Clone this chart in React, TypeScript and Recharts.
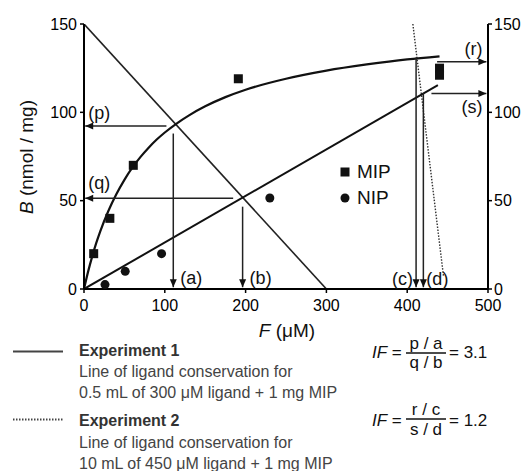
import React from 'react';
import { ComposedChart, Line, Scatter, XAxis, YAxis, Legend } from 'recharts';

// ---- data ----
const xTicks = [0, 100, 200, 300, 400, 500];
const yTicks = [0, 50, 100, 150];

const mipF = [12, 32, 61, 191, 440, 440];
const mipB = [20, 40, 70, 119, 125, 121];
const nipF = [26, 51, 96, 230];
const nipB = [2.5, 10, 20, 51.5];

const mipFitF = [0, 5, 10, 15, 20, 30, 40, 50, 60, 70, 80, 90, 100, 115, 130, 150, 175, 200, 250, 300, 350, 400, 440];
const mipFitB = [0, 9.7, 18.2, 25.8, 32.5, 44, 53.6, 61.8, 68.8, 74.8, 80, 84.6, 88.6, 93.8, 98.3, 103.4, 108.6, 112.8, 119, 123.6, 127.1, 130, 131.7];

const nipFitF = [0, 438];
const nipFitB = [0, 115.4];

const exp1F = [0, 300];
const exp1B = [150, 0];
const exp2F = [407, 445];
const exp2B = [150, 7];

const arrowNames = ['p', 'a', 'q', 'b', 'c', 'd', 'r', 's'];
const arrowFromF = [102, 110.5, 184.6, 196.3, 411, 420, 437, 430];
const arrowFromB = [92.2, 88, 51.3, 46.6, 131, 111, 128.7, 110.7];
const arrowToF = [1.5, 110.5, 1.5, 196.3, 411, 420, 498, 498];
const arrowToB = [92.2, 1, 51.3, 1, 1, 1, 128.7, 110.7];

// ---- helpers ----
const pts = (F: number[], B: number[]) => F.map((f, i) => ({ F: f, B: B[i] }));

const FONT = '"Liberation Sans", Arial, Helvetica, sans-serif';
const INK = '#111';

const labelStyle: Record<string, [number, number, string]> = {
  p: [3, -13, 'start'],
  q: [3, -16, 'start'],
  a: [7, -10, 'start'],
  b: [7, -10, 'start'],
  c: [-3, -9, 'end'],
  d: [3, -9, 'start'],
  r: [-4, -13, 'end'],
  s: [-4, 13, 'end'],
};

const arrowTips = arrowNames.map((n, i) => {
  let dir = 'down';
  if (arrowToF[i] < arrowFromF[i]) dir = 'left';
  else if (arrowToF[i] > arrowFromF[i]) dir = 'right';
  else if (arrowToB[i] > arrowFromB[i]) dir = 'up';
  return { F: arrowToF[i], B: arrowToB[i], name: n, dir };
});

const ArrowHead = (props: any) => {
  const { cx, cy, payload } = props;
  if (cx == null || cy == null) return null;
  const L = 8;
  const W = 3.5;
  let poly = '';
  switch (payload.dir) {
    case 'left':
      poly = `${cx},${cy} ${cx + L},${cy - W} ${cx + L},${cy + W}`;
      break;
    case 'right':
      poly = `${cx},${cy} ${cx - L},${cy - W} ${cx - L},${cy + W}`;
      break;
    case 'up':
      poly = `${cx},${cy} ${cx - W},${cy + L} ${cx + W},${cy + L}`;
      break;
    default:
      poly = `${cx},${cy} ${cx - W},${cy - L} ${cx + W},${cy - L}`;
  }
  const [dx, dy, anchor] = labelStyle[payload.name];
  return (
    <g>
      <polygon points={poly} fill={INK} />
      <text
        x={cx + dx}
        y={cy + dy}
        dy="0.35em"
        textAnchor={anchor as any}
        fontSize={18}
        fontFamily={FONT}
        fill={INK}
      >
        ({payload.name})
      </text>
    </g>
  );
};

const Square = (props: any) => {
  const { cx, cy } = props;
  if (cx == null) return null;
  return <rect x={cx - 4.5} y={cy - 4.5} width={9} height={9} fill={INK} />;
};
const Dot = (props: any) => {
  const { cx, cy } = props;
  if (cx == null) return null;
  return <circle cx={cx} cy={cy} r={4.5} fill={INK} />;
};

const LegendBox = () => (
  <div style={{ fontFamily: FONT, fontSize: 19, color: INK }}>
    <div style={{ display: 'flex', alignItems: 'center', height: 26 }}>
      <svg width={10} height={10}>
        <rect x={0.5} y={0.5} width={9} height={9} fill={INK} />
      </svg>
      <span style={{ marginLeft: 7 }}>MIP</span>
    </div>
    <div style={{ display: 'flex', alignItems: 'center', height: 26 }}>
      <svg width={10} height={10}>
        <circle cx={5} cy={5} r={4.5} fill={INK} />
      </svg>
      <span style={{ marginLeft: 7 }}>NIP</span>
    </div>
  </div>
);

const axisTick = { fill: '#000', fontSize: 16, fontFamily: FONT };
const axisLine = { stroke: '#000', strokeWidth: 2 };
const tickLine = { stroke: '#000', strokeWidth: 1.5 };

export default function App() {
  return (
    <div style={{ position: 'absolute', left: 0, top: 0, width: 525, height: 471, background: '#fff' }}>
      <ComposedChart width={525} height={471} margin={{ top: 24, right: 0, bottom: 152, left: 0 }}>
        <XAxis
          type="number"
          dataKey="F"
          domain={[0, 500]}
          ticks={xTicks}
          interval={0}
          allowDataOverflow
          height={30}
          axisLine={axisLine}
          tickLine={tickLine}
          tickSize={4}
          tickMargin={7}
          tick={axisTick}
        />
        <YAxis
          yAxisId="l"
          type="number"
          dataKey="B"
          domain={[0, 150]}
          ticks={yTicks}
          interval={0}
          allowDataOverflow
          width={84}
          axisLine={axisLine}
          tickLine={tickLine}
          tickSize={4}
          tickMargin={3}
          tick={axisTick}
        />
        <YAxis
          yAxisId="r"
          orientation="right"
          type="number"
          dataKey="B"
          domain={[0, 150]}
          ticks={yTicks}
          interval={0}
          allowDataOverflow
          width={37}
          axisLine={axisLine}
          tickLine={tickLine}
          tickSize={4}
          tickMargin={2}
          tick={axisTick}
        />
        <Legend
          layout="vertical"
          align="center"
          verticalAlign="middle"
          wrapperStyle={{ left: 340, top: 159, width: 80, height: 52 }}
          content={LegendBox}
        />
        <Line yAxisId="l" data={pts(exp1F, exp1B)} dataKey="B" type="linear" stroke="#222" strokeWidth={1.6} dot={false} isAnimationActive={false} legendType="none" />
        <Line yAxisId="l" data={pts(exp2F, exp2B)} dataKey="B" type="linear" stroke="#333" strokeWidth={1.4} strokeDasharray="1.5 1.5" dot={false} isAnimationActive={false} legendType="none" />
        <Line yAxisId="l" data={pts(mipFitF, mipFitB)} dataKey="B" type="monotone" stroke={INK} strokeWidth={2.2} dot={false} isAnimationActive={false} legendType="none" />
        <Line yAxisId="l" data={pts(nipFitF, nipFitB)} dataKey="B" type="linear" stroke={INK} strokeWidth={2} dot={false} isAnimationActive={false} legendType="none" />
        {arrowNames.map((n, i) => (
          <Line
            key={n}
            yAxisId="l"
            data={[
              { F: arrowFromF[i], B: arrowFromB[i] },
              { F: arrowToF[i], B: arrowToB[i] },
            ]}
            dataKey="B"
            type="linear"
            stroke="#222"
            strokeWidth={1.5}
            dot={false}
            isAnimationActive={false}
            legendType="none"
          />
        ))}
        <Scatter yAxisId="l" data={arrowTips} dataKey="B" shape={ArrowHead} isAnimationActive={false} legendType="none" />
        <Scatter yAxisId="l" name="MIP" data={pts(mipF, mipB)} dataKey="B" shape={Square} isAnimationActive={false} />
        <Scatter yAxisId="l" name="NIP" data={pts(nipF, nipB)} dataKey="B" shape={Dot} isAnimationActive={false} />
      </ComposedChart>

      <svg
        width={525}
        height={471}
        style={{ position: 'absolute', left: 0, top: 0, pointerEvents: 'none' }}
        fontFamily={FONT}
      >
        <text transform="rotate(-90)" x={-157} y={26} textAnchor="middle" dominantBaseline="central" fontSize={19} fill={INK}>
          <tspan fontStyle="italic">B</tspan> (nmol / mg)
        </text>
        <text x={287} y={330} dy="0.35em" textAnchor="middle" fontSize={19} fill={INK}>
          <tspan fontStyle="italic">F</tspan> (μM)
        </text>

        <line x1={13} x2={63} y1={351.5} y2={351.5} stroke="#444" strokeWidth={2} />
        <text x={79} y={350} dy="0.35em" fontSize={16} fontWeight="bold" fill="#333">Experiment 1</text>
        <text x={79} y={371} dy="0.35em" fontSize={16} fill="#444">Line of ligand conservation for</text>
        <text x={79} y={392} dy="0.35em" fontSize={16} fill="#444">0.5 mL of 300 μM ligand + 1 mg MIP</text>

        <line x1={13} x2={63} y1={419.5} y2={419.5} stroke="#444" strokeWidth={2} strokeDasharray="1.5 1.5" />
        <text x={79} y={420} dy="0.35em" fontSize={16} fontWeight="bold" fill="#333">Experiment 2</text>
        <text x={79} y={442} dy="0.35em" fontSize={16} fill="#444">Line of ligand conservation for</text>
        <text x={79} y={463} dy="0.35em" fontSize={16} fill="#444">10 mL of 450 μM ligand + 1 mg MIP</text>

        <text x={372} y={352} dy="0.35em" fontSize={17} fill={INK}><tspan fontStyle="italic">IF</tspan> =</text>
        <text x={426} y={343} dy="0.35em" textAnchor="middle" fontSize={17} fill={INK}>p / a</text>
        <line x1={406} x2={446} y1={353} y2={353} stroke={INK} strokeWidth={1.3} />
        <text x={426} y={362} dy="0.35em" textAnchor="middle" fontSize={17} fill={INK}>q / b</text>
        <text x={449} y={352} dy="0.35em" fontSize={17} fill={INK}>= 3.1</text>

        <text x={372} y={420} dy="0.35em" fontSize={17} fill={INK}><tspan fontStyle="italic">IF</tspan> =</text>
        <text x={426} y={409} dy="0.35em" textAnchor="middle" fontSize={17} fill={INK}>r / c</text>
        <line x1={406} x2={446} y1={419} y2={419} stroke={INK} strokeWidth={1.3} />
        <text x={426} y={429} dy="0.35em" textAnchor="middle" fontSize={17} fill={INK}>s / d</text>
        <text x={449} y={420} dy="0.35em" fontSize={17} fill={INK}>= 1.2</text>
      </svg>
    </div>
  );
}
